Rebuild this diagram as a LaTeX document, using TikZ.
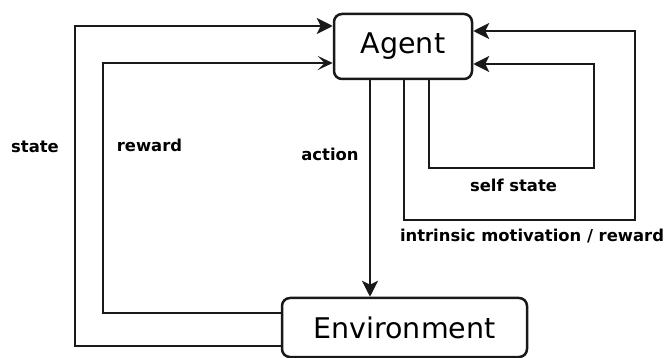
\documentclass[tikz,border=0pt]{standalone}
\usepackage{fontspec}
\setmainfont{DejaVu Sans}
\usetikzlibrary{arrows.meta}
\tikzset{
  box/.style={draw=black!90,line width=2.5pt,rounded corners=8pt,inner sep=0pt,font=\fontsize{28.5}{32}\selectfont},
  link/.style={draw=black!90,line width=2.5pt},
  arr/.style={link,-{Stealth[length=16pt,width=16pt,inset=4pt]}},
  thinarr/.style={link,-{Stealth[length=15pt,width=14pt,inset=7pt]}},
  lbl/.style={font=\fontsize{16.4}{19}\selectfont\bfseries,inner sep=0pt}}
\begin{document}
\begin{tikzpicture}[x=1pt,y=-1pt]
\useasboundingbox (0,0) rectangle (667,358);
\node[box,minimum width=138pt,minimum height=65pt] (agent) at (403,46.5) {Agent};
\node[box,minimum width=245pt,minimum height=59pt] (env) at (404.5,327.5) {Environment};
% environment to agent: state and reward
\coordinate (sl) at (75,346);
\coordinate (rl) at (103,313);
\draw[arr] ([yshift=-18.5pt]env.west) -- (sl) |- ([yshift=20.5pt]agent.west);
\draw[thinarr] ([yshift=14.5pt]env.west) -- (rl) |- ([yshift=-16.5pt]agent.west);
% agent to environment: action
\draw[arr] ([xshift=-33pt]agent.south) -- ([xshift=-33pt]agent.south |- env.north);
% internal loops
\coordinate (im1) at (404,220);
\coordinate (im2) at (635,220);
\draw[arr] ([xshift=1pt]agent.south) -- (im1) -- (im2) |- ([yshift=15.5pt]agent.east);
\coordinate (ss1) at (429,168);
\coordinate (ss2) at (594,168);
\draw[arr] ([xshift=26pt]agent.south) -- (ss1) -- (ss2) |- ([yshift=-17.5pt]agent.east);
% labels
\node[lbl] (tstate) at (35,147) {state};
\node[lbl] (treward) at (149.5,145) {reward};
\node[lbl] (taction) at (330,154) {action};
\node[lbl] (tself) at (513.5,185) {self state};
\node[lbl] (tintr) at (532,236) {intrinsic motivation / reward};
\end{tikzpicture}
\end{document}
